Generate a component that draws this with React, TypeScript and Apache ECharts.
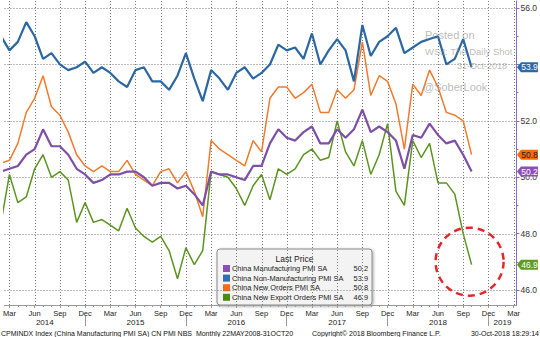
import React, { useEffect, useRef } from "react";
import * as echarts from "echarts";

// Monthly observations, Feb 2014 .. Oct 2018 (index 0 = Feb 2014)
const months = [
  "2014-02", "2014-03", "2014-04", "2014-05", "2014-06", "2014-07", "2014-08", "2014-09", "2014-10", "2014-11", "2014-12",
  "2015-01", "2015-02", "2015-03", "2015-04", "2015-05", "2015-06", "2015-07", "2015-08", "2015-09", "2015-10", "2015-11", "2015-12",
  "2016-01", "2016-02", "2016-03", "2016-04", "2016-05", "2016-06", "2016-07", "2016-08", "2016-09", "2016-10", "2016-11", "2016-12",
  "2017-01", "2017-02", "2017-03", "2017-04", "2017-05", "2017-06", "2017-07", "2017-08", "2017-09", "2017-10", "2017-11", "2017-12",
  "2018-01", "2018-02", "2018-03", "2018-04", "2018-05", "2018-06", "2018-07", "2018-08", "2018-09", "2018-10",
];

const manufacturing = [
  50.2, 50.3, 50.4, 50.8, 51.0, 51.7, 51.1, 51.1, 50.8, 50.3, 50.1,
  49.8, 49.9, 50.1, 50.1, 50.2, 50.2, 50.0, 49.7, 49.8, 49.8, 49.6, 49.7,
  49.4, 49.0, 50.2, 50.1, 50.1, 50.0, 49.9, 50.4, 50.4, 51.2, 51.7, 51.4,
  51.3, 51.6, 51.8, 51.2, 51.2, 51.7, 51.4, 51.7, 52.4, 51.6, 51.8, 51.6,
  51.3, 50.3, 51.5, 51.4, 51.9, 51.5, 51.2, 51.3, 50.8, 50.2,
];

const nonManufacturing = [
  55.0, 54.5, 54.8, 55.5, 55.0, 54.2, 54.4, 54.0, 53.8, 53.9, 54.1,
  53.7, 53.9, 53.7, 53.4, 53.2, 53.8, 53.9, 53.4, 53.4, 53.1, 53.6, 54.4,
  53.5, 52.7, 53.8, 53.5, 53.1, 53.7, 53.9, 53.5, 53.7, 54.0, 54.7, 54.5,
  54.6, 54.2, 55.1, 54.0, 54.5, 54.9, 54.5, 53.4, 55.4, 54.3, 54.8, 55.0,
  55.3, 54.4, 54.6, 54.8, 54.9, 55.0, 54.0, 54.2, 54.9, 53.9,
];

const newOrders = [
  50.5, 50.6, 51.2, 52.3, 52.8, 53.6, 52.5, 52.2, 51.6, 50.8, 50.4,
  50.2, 50.4, 50.2, 50.2, 50.6, 50.1, 49.9, 49.7, 50.2, 50.3, 49.8, 50.2,
  49.5, 48.6, 51.3, 51.0, 50.8, 50.6, 50.4, 51.3, 50.9, 52.8, 53.2, 53.2,
  52.8, 53.0, 53.3, 52.3, 52.3, 53.1, 52.8, 53.1, 54.8, 52.9, 53.6, 53.4,
  52.6, 51.0, 53.3, 52.9, 53.8, 53.2, 52.3, 52.2, 52.0, 50.8,
];

const newExportOrders = [
  48.4, 50.1, 49.1, 49.3, 50.3, 50.8, 50.0, 50.2, 49.9, 48.4, 49.1,
  48.4, 48.5, 48.3, 48.1, 48.9, 48.2, 47.9, 47.7, 47.9, 47.4, 46.4, 47.5,
  46.9, 47.4, 50.2, 50.1, 50.0, 49.6, 49.0, 49.7, 50.1, 49.2, 50.3, 50.1,
  50.3, 50.8, 51.0, 50.6, 50.7, 52.0, 50.9, 50.4, 51.3, 50.1, 50.8, 51.9,
  49.5, 49.0, 51.3, 50.7, 51.2, 49.8, 49.8, 49.4, 48.0, 46.9,
];

const seriesNames = [
  "China Manufacturing PMI SA",
  "China Non-Manufacturing PMI SA",
  "China New Orders PMI SA",
  "China New Export Orders PMI SA",
];
const seriesValues = [manufacturing, nonManufacturing, newOrders, newExportOrders];

const yGridValues = [46, 48, 50, 52, 54, 56];
// 54.0 sits under the 53.9 price tag in the original, so it is not printed
const yTickLabels = [46, 48, 50, 52, 56];
const yMinorTicks = [47, 49, 51, 53, 55];
const monthNames = ["Jan", "Feb", "Mar", "Apr", "May", "Jun", "Jul", "Aug", "Sep", "Oct", "Nov", "Dec"];

// styles
const lineColors = ["#7e4fa6", "#2b67a2", "#f27a2c", "#5b9421"];
const lineWidths = [2.2, 2.2, 1.5, 1.5];
const swatchColors = ["#8b4fb5", "#2f6fb5", "#ff6a13", "#4c8c0c"];
const badgeColors = ["#8b50b4", "#2c6aa5", "#ff6a00", "#5d9c1f"];
const badgeText = ["#ffffff", "#ffffff", "#1a1a1a", "#ffffff"];
const drawOrder = [3, 2, 0, 1];

const FONT = "'Liberation Sans', Arial, sans-serif";
const X_MIN = 0.41;
const X_MAX = 61.34;
const Y_MIN = 45.47;
const Y_MAX = 56.25;
const AXIS_GREY = "#9a9a9a";
const AXIS_PURPLE = "#8a6bbd";
const GRID_STYLE = { stroke: "#7a7a7a", lineWidth: 1, lineDash: [1, 2] };

export default function App() {
  const ref = useRef<HTMLDivElement>(null);

  useEffect(() => {
    if (!ref.current) return;
    const chart = echarts.init(ref.current, undefined, { renderer: "svg" });

    const monthTicks: number[] = [];
    for (let i = 1; i <= 61; i++) monthTicks.push(i);
    const quarterTicks = monthTicks.filter((i) => (i + 1) % 3 === 2);
    const decTicks = monthTicks.filter((i) => (i + 1) % 12 === 11);
    const bounds = [X_MIN, ...decTicks, X_MAX];
    const yearCenters: number[] = [];
    for (let k = 0; k < bounds.length - 1; k++) yearCenters.push((bounds[k] + bounds[k + 1]) / 2);

    const lineSeries = drawOrder.map((si) => {
      const vals = seriesValues[si];
      const last = vals[vals.length - 1];
      const markData: any[] = [
        {
          coord: [X_MAX, last],
          value: last,
          symbol: "path://M0,5 L4,0 L21,0 L21,10 L4,10 Z",
          symbolSize: [21, 10],
          symbolOffset: [11, 0],
          itemStyle: { color: badgeColors[si] },
          label: {
            show: true,
            formatter: last.toFixed(1),
            color: badgeText[si],
            fontSize: 8.5,
            fontFamily: FONT,
            offset: [2, 0],
          },
        },
      ];
      if (si === 3) {
        markData.push({
          coord: [vals.length - 1, last],
          symbol: "circle",
          symbolSize: 68,
          symbolOffset: [-2, -3],
          itemStyle: {
            color: "rgba(0,0,0,0)",
            borderColor: "#e8262a",
            borderWidth: 2.5,
            borderType: [7, 5],
          },
          label: { show: false },
        });
      }
      return {
        name: seriesNames[si],
        type: "line",
        data: vals.map((v, i) => [i, v]),
        showSymbol: false,
        clip: true,
        z: 3,
        lineStyle: { color: lineColors[si], width: lineWidths[si] },
        itemStyle: { color: lineColors[si] },
        markPoint: { silent: true, z: 5, data: markData },
      };
    });

    const legendChildren: any[] = [
      {
        type: "rect",
        shape: { x: 217, y: 249, width: 155, height: 56, r: 3 },
        style: {
          fill: "#f3f3f3",
          stroke: "#8a8a8a",
          lineWidth: 1,
          shadowBlur: 3,
          shadowColor: "rgba(0,0,0,0.35)",
          shadowOffsetX: 1,
          shadowOffsetY: 1,
        },
      },
      {
        type: "text",
        style: {
          text: "Last Price",
          x: 294.5,
          y: 259,
          textAlign: "center",
          textVerticalAlign: "middle",
          font: `8.5px ${FONT}`,
          fill: "#222",
        },
      },
    ];
    seriesNames.forEach((name, i) => {
      const y = 268.5 + i * 9.6;
      const vals = seriesValues[i];
      legendChildren.push(
        { type: "rect", shape: { x: 223, y: y - 3.5, width: 7, height: 7 }, style: { fill: swatchColors[i] } },
        {
          type: "text",
          style: { text: name, x: 232, y, textVerticalAlign: "middle", font: `7.4px ${FONT}`, fill: "#222" },
        },
        {
          type: "text",
          style: {
            text: vals[vals.length - 1].toFixed(1),
            x: 368,
            y,
            textAlign: "right",
            textVerticalAlign: "middle",
            font: `7.4px ${FONT}`,
            fill: "#222",
          },
        }
      );
    });

    const wm = "rgba(140,140,140,0.6)";
    const baseGraphic: any[] = [
      { type: "text", z: 10, style: { text: "Posted on", x: 425, y: 35, textVerticalAlign: "middle", font: `11px ${FONT}`, fill: wm } },
      { type: "text", z: 10, style: { text: "WSJ: The Daily Shot", x: 425, y: 51, textVerticalAlign: "middle", font: `9.5px ${FONT}`, fill: wm } },
      { type: "text", z: 10, style: { text: "31-Oct-2018", x: 457, y: 66, textVerticalAlign: "middle", font: `9px ${FONT}`, fill: wm } },
      { type: "text", z: 10, style: { text: "@SoberLook", x: 423, y: 87, textVerticalAlign: "middle", font: `11px ${FONT}`, fill: wm } },
      { type: "group", z: 20, children: legendChildren },
      {
        type: "text",
        style: {
          text: "CPMINDX Index (China Manufacturing PMI SA) CN PMI NBS  Monthly 22MAY2008-31OCT20",
          x: 1,
          y: 333,
          textVerticalAlign: "middle",
          font: `7px ${FONT}`,
          fill: "#111",
        },
      },
      {
        type: "text",
        style: { text: "Copyright\u00a9 2018 Bloomberg Finance L.P.", x: 312, y: 333, textVerticalAlign: "middle", font: `7px ${FONT}`, fill: "#111" },
      },
      {
        type: "text",
        style: { text: "30-Oct-2018 18:29:14", x: 539, y: 333, textAlign: "right", textVerticalAlign: "middle", font: `7px ${FONT}`, fill: "#111" },
      },
    ];

    chart.setOption({
      animation: false,
      backgroundColor: "#ffffff",
      textStyle: { fontFamily: FONT },
      grid: { left: 0, right: 23, top: 1, bottom: 32, containLabel: false },
      xAxis: [
        {
          type: "value",
          min: X_MIN,
          max: X_MAX,
          position: "bottom",
          axisLine: { show: true, lineStyle: { color: AXIS_GREY } },
          axisTick: { show: true, customValues: quarterTicks, length: 3, lineStyle: { color: AXIS_GREY } },
          axisLabel: {
            show: true,
            customValues: quarterTicks,
            formatter: (v: number) => monthNames[(Math.round(v) + 1) % 12],
            fontSize: 7.5,
            color: "#222",
            margin: 4,
            fontFamily: FONT,
          },
          splitLine: { show: false },
        },
        {
          type: "value",
          min: X_MIN,
          max: X_MAX,
          position: "bottom",
          offset: 11,
          axisLine: { show: false },
          axisTick: { show: true, customValues: decTicks, length: 10, lineStyle: { color: AXIS_GREY } },
          axisLabel: {
            show: true,
            customValues: yearCenters,
            formatter: (v: number) => String(2014 + Math.floor((v + 1) / 12)),
            fontSize: 8,
            color: "#222",
            margin: 2,
            fontFamily: FONT,
          },
          splitLine: { show: false },
        },
        {
          type: "value",
          min: X_MIN,
          max: X_MAX,
          position: "bottom",
          axisLine: { show: false },
          axisTick: { show: true, customValues: monthTicks, length: 2, lineStyle: { color: AXIS_GREY } },
          axisLabel: { show: false },
          splitLine: { show: false },
        },
      ],
      yAxis: [
        {
          type: "value",
          position: "right",
          min: Y_MIN,
          max: Y_MAX,
          axisLine: { show: true, lineStyle: { color: AXIS_PURPLE } },
          axisTick: { show: true, customValues: yGridValues, length: 3, lineStyle: { color: AXIS_PURPLE } },
          axisLabel: {
            show: true,
            customValues: yTickLabels,
            formatter: (v: number) => v.toFixed(1),
            fontSize: 8.5,
            color: "#333",
            margin: 4,
            fontFamily: FONT,
          },
          splitLine: { show: false },
        },
        {
          type: "value",
          position: "right",
          min: Y_MIN,
          max: Y_MAX,
          axisLine: { show: false },
          axisTick: { show: true, customValues: yMinorTicks, length: 2, lineStyle: { color: AXIS_PURPLE } },
          axisLabel: { show: false },
          splitLine: { show: false },
        },
      ],
      series: lineSeries,
      graphic: baseGraphic,
    });

    // dotted grid lines: positions come from the chart's own axis scales
    const toPx = (x: number, y: number) =>
      chart.convertToPixel({ xAxisIndex: 0, yAxisIndex: 0 }, [x, y]) as number[];
    const gridLines: any[] = [];
    yGridValues.forEach((v) => {
      const a = toPx(X_MIN, v);
      const b = toPx(X_MAX, v);
      const y = Math.round(a[1]) + 0.5;
      gridLines.push({ type: "polyline", z: 1, silent: true, shape: { points: [[a[0], y], [b[0], y]] }, style: GRID_STYLE });
    });
    quarterTicks.forEach((v) => {
      const a = toPx(v, Y_MIN);
      const b = toPx(v, Y_MAX);
      const x = Math.round(a[0]) + 0.5;
      gridLines.push({ type: "polyline", z: 1, silent: true, shape: { points: [[x, a[1]], [x, b[1]]] }, style: GRID_STYLE });
    });
    chart.setOption({ graphic: [...baseGraphic, ...gridLines] });

    return () => chart.dispose();
  }, []);

  return (
    <div
      ref={ref}
      style={{ position: "absolute", left: 0, top: 0, width: 540, height: 337 }}
    />
  );
}
